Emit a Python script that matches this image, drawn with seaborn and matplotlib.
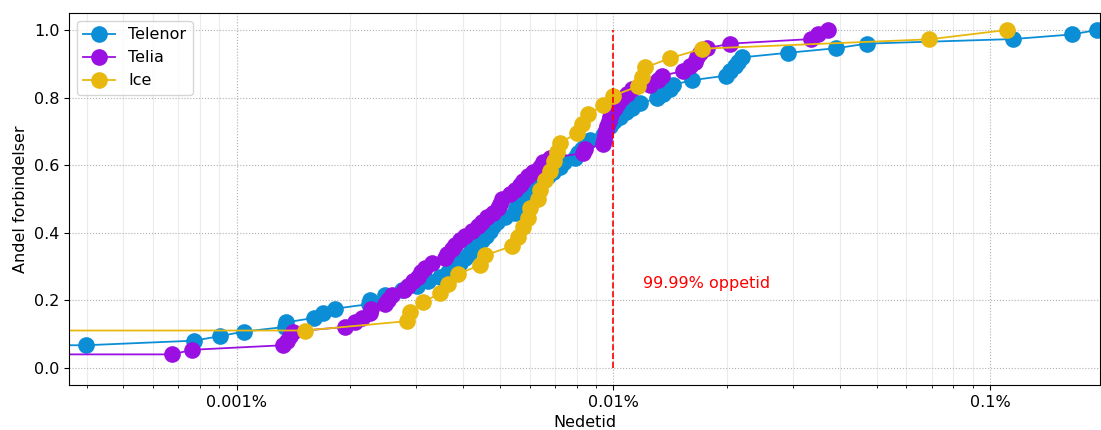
import numpy as np
import matplotlib
matplotlib.use("Agg")
import matplotlib.pyplot as plt
import seaborn as sns
from matplotlib.ticker import FuncFormatter, LogLocator

# Nedetid (downtime) per connection, in percent, sorted ascending
telenor_nedetid = [0, 0, 0, 0,
    3.98e-4, 7.71e-4, 9.04e-4, 1.047e-3, 1.345e-3, 1.354e-3, 1.607e-3, 1.697e-3,
    1.826e-3, 2.248e-3, 2.262e-3, 2.48e-3, 2.75e-3, 3.02e-3, 3.23e-3, 3.47e-3,
    3.65e-3, 3.76e-3, 3.92e-3, 4.05e-3, 4.15e-3, 4.22e-3, 4.33e-3, 4.49e-3,
    4.60e-3, 4.71e-3, 4.80e-3, 4.92e-3, 5.17e-3, 5.49e-3, 5.53e-3, 5.63e-3,
    5.70e-3, 5.80e-3, 5.91e-3, 6.13e-3, 6.32e-3, 6.72e-3, 6.93e-3, 7.23e-3,
    7.41e-3, 7.93e-3, 8.07e-3, 8.27e-3, 8.48e-3, 8.69e-3, 9.41e-3, 9.58e-3,
    9.82e-3, 1.006e-2, 1.044e-2, 1.083e-2, 1.123e-2, 1.180e-2, 1.309e-2, 1.358e-2,
    1.417e-2, 1.443e-2, 1.621e-2, 1.996e-2, 2.046e-2, 2.109e-2, 2.148e-2, 2.201e-2,
    2.916e-2, 3.911e-2, 4.727e-2, 0.1154, 0.1647, 0.1930]

telia_nedetid = [0, 0,
    6.74e-4, 7.62e-4, 1.329e-3, 1.362e-3, 1.387e-3, 1.413e-3, 1.94e-3, 2.06e-3,
    2.15e-3, 2.26e-3, 2.276e-3, 2.48e-3, 2.53e-3, 2.59e-3, 2.79e-3, 2.86e-3,
    2.94e-3, 3.04e-3, 3.09e-3, 3.17e-3, 3.31e-3, 3.58e-3, 3.62e-3, 3.74e-3,
    3.81e-3, 3.92e-3, 4.05e-3, 4.22e-3, 4.38e-3, 4.49e-3, 4.63e-3, 4.80e-3,
    4.95e-3, 5.01e-3, 5.07e-3, 5.33e-3, 5.49e-3, 5.66e-3, 5.77e-3, 5.95e-3,
    6.13e-3, 6.40e-3, 6.52e-3, 6.80e-3, 8.32e-3, 8.43e-3, 9.41e-3, 9.46e-3,
    9.52e-3, 9.58e-3, 9.64e-3, 9.76e-3, 9.82e-3, 9.94e-3, 1.012e-2, 1.031e-2,
    1.057e-2, 1.089e-2, 1.123e-2, 1.254e-2, 1.317e-2, 1.349e-2, 1.534e-2, 1.602e-2,
    1.651e-2, 1.671e-2, 1.702e-2, 1.777e-2, 2.046e-2, 3.357e-2, 3.503e-2, 3.724e-2]

ice_nedetid = [0, 0, 0,
    1.52e-3, 2.84e-3, 2.89e-3, 3.13e-3, 3.47e-3, 3.65e-3, 3.88e-3, 4.43e-3,
    4.57e-3, 5.39e-3, 5.59e-3, 5.77e-3, 5.95e-3, 6.02e-3, 6.32e-3, 6.40e-3,
    6.60e-3, 6.80e-3, 6.97e-3, 7.10e-3, 7.23e-3, 8.02e-3, 8.27e-3, 8.58e-3,
    9.41e-3, 1.0e-2, 1.165e-2, 1.194e-2, 1.216e-2, 1.417e-2, 1.724e-2, 6.908e-2,
    0.1113]

operators = ["Telenor", "Telia", "Ice"]
colors = ["#0b8ed6", "#9a10e2", "#e8b80e"]
oppetid_grense = 0.01   # 99.99 % uptime -> 0.01 % downtime
tekst_x, tekst_y = 0.012, 0.25

FS = 11.5

fig = plt.figure(figsize=(11.01, 4.30), dpi=100)
ax = fig.add_axes([69 / 1101, 45 / 430, 1031 / 1101, 372 / 430])

for name, vals, col in zip(operators, [telenor_nedetid, telia_nedetid, ice_nedetid], colors):
    vals = np.asarray(vals, dtype=float)
    andel = np.arange(1, len(vals) + 1) / len(vals)   # empirical cumulative share
    sns.lineplot(x=vals, y=andel, ax=ax, label=name, color=col, marker="o",
                 markersize=12, markeredgewidth=0, linewidth=1.3,
                 estimator=None, sort=False)

ax.set_xscale("log")
ax.set_xlim(3.59e-4, 0.196)
ax.set_ylim(-0.05, 1.05)

ax.vlines(oppetid_grense, 0, 1, colors="red", linestyles="--", linewidth=1.2)
ax.text(tekst_x, tekst_y, "99.99% oppetid", color="red", fontsize=FS, va="center")

ax.xaxis.set_major_formatter(FuncFormatter(lambda v, p: f"{v:g}%"))
ax.xaxis.set_minor_locator(LogLocator(base=10, subs=np.arange(2, 10)))
ax.grid(True, which="major", linestyle=":", color="#b0b0b0", linewidth=0.8)
ax.grid(True, which="minor", axis="x", linestyle="-", color="#ececec", linewidth=0.8)
ax.set_axisbelow(True)

ax.tick_params(axis="both", labelsize=FS)
ax.set_xlabel("Nedetid", fontsize=FS)
ax.set_ylabel("Andel forbindelser", fontsize=FS)
ax.legend(loc="upper left", fontsize=FS)

fig.savefig("out.png", dpi=100)
